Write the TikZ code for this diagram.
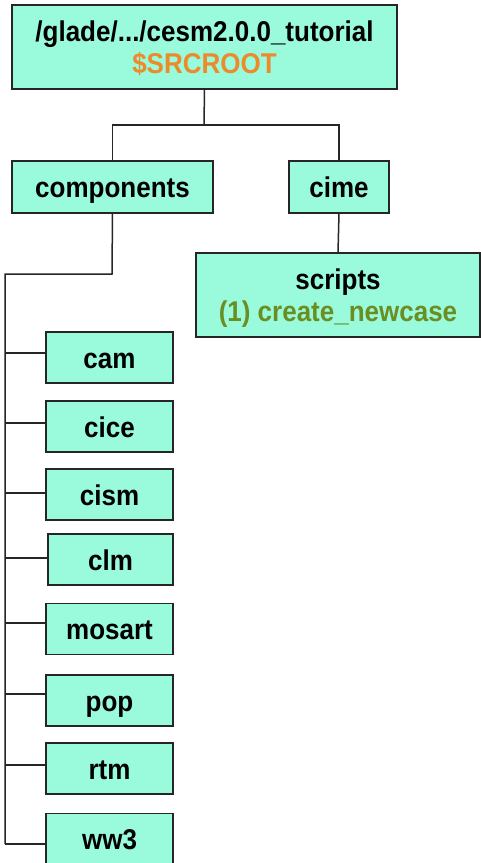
\documentclass[tikz,border=0pt]{standalone}
\usepackage{fontspec}
\usepackage{graphicx}
\setmainfont{Liberation Sans}
\definecolor{boxfill}{RGB}{153,251,220}
\definecolor{srcorange}{RGB}{236,138,44}
\definecolor{scriptgreen}{RGB}{107,142,35}
\newcommand\vst[1]{\scalebox{1}[1.1]{#1}}
\newcommand\twoline[2]{\vtop{\baselineskip=32pt\lineskiplimit=-100pt\lineskip=0pt
  \halign{\hfil##\hfil\cr\vst{#1}\cr\vst{#2}\cr}}}
\begin{document}
\begin{tikzpicture}[x=1pt,y=-1pt,
  dirbox/.style={draw=black!85, line width=1.7pt, fill=boxfill, inner sep=0pt, outer sep=0pt,
    font=\fontsize{26}{32}\selectfont\bfseries, text height=22pt, text depth=1pt},
  dirbox2/.style={dirbox, text height=20pt, text depth=32pt},
  conn/.style={draw=black!85, line width=1.5pt}]
\useasboundingbox (0,0) rectangle (481,863);
\fill[white] (0,0) rectangle (481,863);
% top levels
\node[dirbox2, minimum width=385pt, minimum height=84pt] (root) at (204.5,47)
  {\twoline{/glade/.../cesm2.0.0\_tutorial}{\textcolor{srcorange}{\$SRCROOT}}};
\node[dirbox, minimum width=201pt, minimum height=52pt] (components) at (112.5,187) {\vst{components}};
\node[dirbox, minimum width=100pt, minimum height=52pt] (cime) at (339,187) {\vst{cime}};
\node[dirbox2, minimum width=284pt, minimum height=84pt] (scripts) at (338,295)
  {\twoline{scripts}{\textcolor{scriptgreen}{(1) create\_newcase}}};
% children
\node[dirbox, minimum width=127pt, minimum height=51pt] (cam) at (109.5,357.5) {\vst{cam}};
\node[dirbox, minimum width=127pt, minimum height=51pt] (cice) at (109.5,426.5) {\vst{cice}};
\node[dirbox, minimum width=127pt, minimum height=51pt] (cism) at (109.5,494.5) {\vst{cism}};
\node[dirbox, minimum width=125pt, minimum height=51pt] (clm) at (110.5,559.5) {\vst{clm}};
\node[dirbox, minimum width=127pt, minimum height=51pt] (mosart) at (109.5,629) {\vst{mosart}};
\node[dirbox, minimum width=127pt, minimum height=51pt] (pop) at (109.5,700.5) {\vst{pop}};
\node[dirbox, minimum width=127pt, minimum height=51pt] (rtm) at (109.5,768.5) {\vst{rtm}};
\node[dirbox, minimum width=127pt, minimum height=51pt] (ww3) at (109.5,839) {\vst{ww3}};
% connectors top
\coordinate (j1) at (204,125);
\draw[conn] (root.south) -- (j1);
\draw[conn] (components.north) |- (j1) -| (cime.north);
\draw[conn] (cime.south) -- (scripts.north);
% spine
\coordinate (j2) at (112,274);
\coordinate (s0) at (5,274);
\coordinate (b1) at (5,353);
\coordinate (b2) at (5,423);
\coordinate (b3) at (5,493);
\coordinate (b4) at (5,558);
\coordinate (b5) at (5,623);
\coordinate (b6) at (5,694);
\coordinate (b7) at (5,765);
\coordinate (b8) at (5,844);
\draw[conn] (components.south) -- (j2) -- (s0) -- (b8);
\draw[conn] (b1) -- (b1 -| cam.west);
\draw[conn] (b2) -- (b2 -| cice.west);
\draw[conn] (b3) -- (b3 -| cism.west);
\draw[conn] (b4) -- (b4 -| clm.west);
\draw[conn] (b5) -- (b5 -| mosart.west);
\draw[conn] (b6) -- (b6 -| pop.west);
\draw[conn] (b7) -- (b7 -| rtm.west);
\draw[conn] (b8) -- (b8 -| ww3.west);
\end{tikzpicture}
\end{document}
